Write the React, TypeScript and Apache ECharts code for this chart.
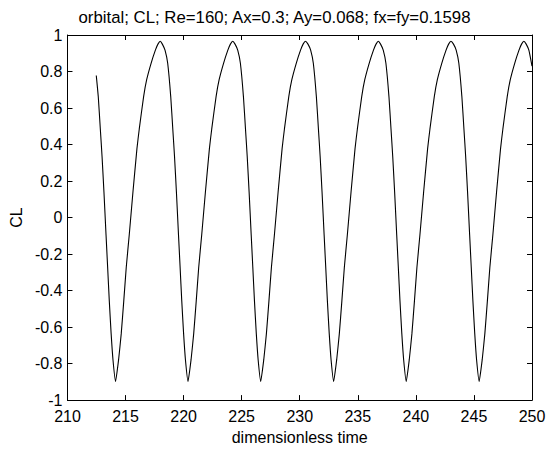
import React, { useEffect, useRef } from "react";
import * as echarts from "echarts";

const titleText = "orbital; CL; Re=160; Ax=0.3; Ay=0.068; fx=fy=0.1598";
const xName = "dimensionless time";
const yName = "CL";

const xTicks = [210, 215, 220, 225, 230, 235, 240, 245, 250];
const yTicks = [-1, -0.8, -0.6, -0.4, -0.2, 0, 0.2, 0.4, 0.6, 0.8, 1];

// time samples
const time = [
  212.48, 212.65, 212.83, 212.98, 213.14, 213.32, 213.46, 213.6, 213.76, 213.92,
  214.14, 214.4, 214.63, 214.85, 215.06, 215.32, 215.64, 215.98, 216.18, 216.56, 216.82, 217.2, 217.57, 217.79, 217.99,
  218.17, 218.4, 218.63, 218.89, 219.07, 219.22, 219.38, 219.56, 219.7, 219.84, 220.0, 220.16,
  220.38, 220.64, 220.87, 221.09, 221.3, 221.56, 221.88, 222.22, 222.42, 222.8, 223.06, 223.44, 223.81, 224.03, 224.23,
  224.43, 224.66, 224.89, 225.15, 225.33, 225.48, 225.64, 225.82, 225.96, 226.1, 226.26, 226.42,
  226.64, 226.9, 227.13, 227.35, 227.56, 227.82, 228.14, 228.48, 228.68, 229.06, 229.32, 229.7, 230.07, 230.29, 230.49,
  230.71, 230.94, 231.17, 231.43, 231.61, 231.76, 231.92, 232.1, 232.24, 232.38, 232.54, 232.7,
  232.92, 233.18, 233.41, 233.63, 233.84, 234.1, 234.42, 234.76, 234.96, 235.34, 235.6, 235.98, 236.35, 236.57, 236.77,
  236.96, 237.19, 237.42, 237.68, 237.86, 238.01, 238.17, 238.35, 238.49, 238.63, 238.79, 238.95,
  239.17, 239.43, 239.66, 239.88, 240.09, 240.35, 240.67, 241.01, 241.21, 241.59, 241.85, 242.23, 242.6, 242.82, 243.02,
  243.24, 243.47, 243.7, 243.96, 244.14, 244.29, 244.45, 244.63, 244.77, 244.91, 245.07, 245.23,
  245.45, 245.71, 245.94, 246.16, 246.37, 246.63, 246.95, 247.29, 247.49, 247.87, 248.13, 248.51, 248.88, 249.1, 249.3,
  249.5, 249.73, 250.0,
];

// CL values
const cl = [
  0.778, 0.664, 0.484, 0.332, 0.141, -0.094, -0.274, -0.455, -0.636, -0.78,
  -0.898, -0.78, -0.636, -0.455, -0.274, -0.094, 0.141, 0.376, 0.484, 0.664, 0.755, 0.845, 0.917, 0.95, 0.966,
  0.95, 0.917, 0.845, 0.664, 0.484, 0.332, 0.141, -0.094, -0.274, -0.455, -0.636, -0.78,
  -0.898, -0.78, -0.636, -0.455, -0.274, -0.094, 0.141, 0.376, 0.484, 0.664, 0.755, 0.845, 0.917, 0.95, 0.966,
  0.95, 0.917, 0.845, 0.664, 0.484, 0.332, 0.141, -0.094, -0.274, -0.455, -0.636, -0.78,
  -0.898, -0.78, -0.636, -0.455, -0.274, -0.094, 0.141, 0.376, 0.484, 0.664, 0.755, 0.845, 0.917, 0.95, 0.966,
  0.95, 0.917, 0.845, 0.664, 0.484, 0.332, 0.141, -0.094, -0.274, -0.455, -0.636, -0.78,
  -0.898, -0.78, -0.636, -0.455, -0.274, -0.094, 0.141, 0.376, 0.484, 0.664, 0.755, 0.845, 0.917, 0.95, 0.966,
  0.95, 0.917, 0.845, 0.664, 0.484, 0.332, 0.141, -0.094, -0.274, -0.455, -0.636, -0.78,
  -0.898, -0.78, -0.636, -0.455, -0.274, -0.094, 0.141, 0.376, 0.484, 0.664, 0.755, 0.845, 0.917, 0.95, 0.966,
  0.95, 0.917, 0.845, 0.664, 0.484, 0.332, 0.141, -0.094, -0.274, -0.455, -0.636, -0.78,
  -0.898, -0.78, -0.636, -0.455, -0.274, -0.094, 0.141, 0.376, 0.484, 0.664, 0.755, 0.845, 0.917, 0.95, 0.966,
  0.95, 0.917, 0.83,
];

const FONT = "'Liberation Sans', Arial, sans-serif";

export default function App() {
  const ref = useRef<HTMLDivElement>(null);
  useEffect(() => {
    if (!ref.current) return;
    const chart = echarts.init(ref.current, null, { renderer: "svg" });
    const fmtY = (v: number) => {
      const r = Math.round(v * 10) / 10;
      if (r === 0) return "0";
      if (Math.abs(r) === 1) return String(r);
      return r.toFixed(1);
    };
    const axisCommon = {
      axisLine: { show: true, onZero: false, lineStyle: { color: "#000", width: 1 } },
      axisTick: { show: true, inside: true, length: 5, lineStyle: { color: "#000", width: 1 } },
      splitLine: { show: false },
    };
    chart.setOption({
      animation: false,
      backgroundColor: "#fff",
      textStyle: { fontFamily: FONT },
      title: {
        text: titleText,
        left: "center",
        top: 4,
        textStyle: { fontFamily: FONT, fontSize: 16.8, fontWeight: "normal", color: "#000" },
      },
      grid: { left: 65, right: 17, top: 35, bottom: 46, containLabel: false },
      xAxis: [
        {
          type: "value",
          position: "bottom",
          min: xTicks[0],
          max: xTicks[xTicks.length - 1],
          interval: 5,
          ...axisCommon,
          axisLabel: { color: "#000", fontSize: 16, lineHeight: 14, fontFamily: FONT, margin: 9 },
          name: xName,
          nameLocation: "middle",
          nameGap: 28,
          nameTextStyle: { color: "#000", fontSize: 16, fontFamily: FONT },
        },
        {
          type: "value",
          position: "top",
          min: xTicks[0],
          max: xTicks[xTicks.length - 1],
          interval: 5,
          ...axisCommon,
          axisLabel: { show: false },
        },
      ],
      yAxis: [
        {
          type: "value",
          position: "left",
          min: yTicks[0],
          max: yTicks[yTicks.length - 1],
          interval: 0.2,
          ...axisCommon,
          axisLabel: {
            color: "#000",
            fontSize: 16,
            lineHeight: 12,
            fontFamily: FONT,
            margin: 5,
            formatter: fmtY,
          },
          name: yName,
          nameLocation: "middle",
          nameGap: 38,
          nameTextStyle: { color: "#000", fontSize: 16, fontFamily: FONT },
        },
        {
          type: "value",
          position: "right",
          min: yTicks[0],
          max: yTicks[yTicks.length - 1],
          interval: 0.2,
          ...axisCommon,
          axisLabel: { show: false },
        },
      ],
      series: [
        {
          type: "line",
          xAxisIndex: 0,
          yAxisIndex: 0,
          data: time.map((t, i) => [t, cl[i]]),
          showSymbol: false,
          symbol: "none",
          smooth: 0.15,
          lineStyle: { color: "#000", width: 1.1 },
        },
      ],
    });
    return () => chart.dispose();
  }, []);
  return (
    <div
      ref={ref}
      style={{ position: "fixed", left: 0, top: 0, width: 549, height: 450, background: "#fff" }}
    />
  );
}
